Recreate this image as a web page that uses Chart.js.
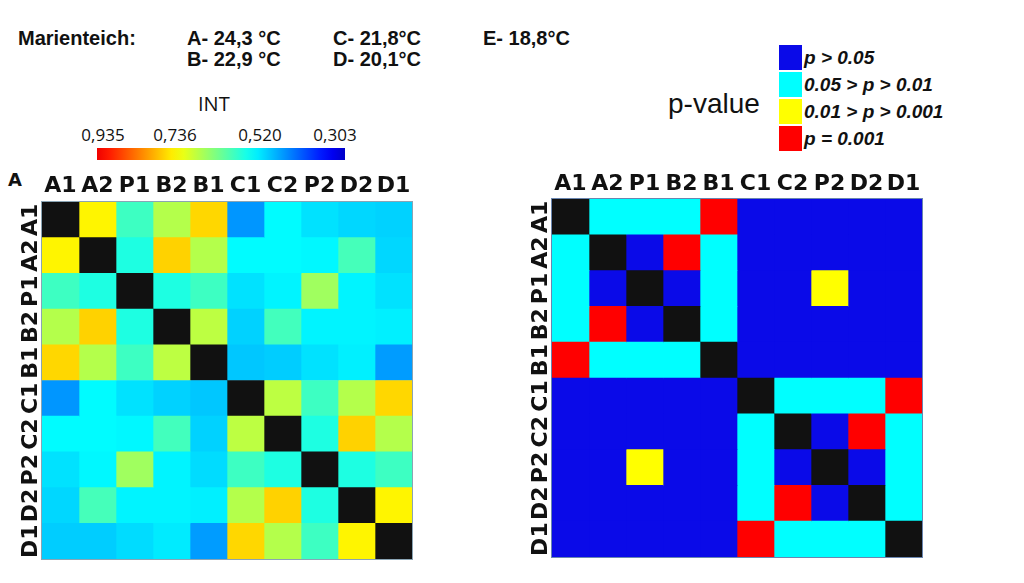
<!DOCTYPE html>
<html>
<head>
<meta charset="utf-8">
<script src="https://cdn.jsdelivr.net/npm/chart.js@4.4.1/dist/chart.umd.min.js"></script>
<style>
  body { margin: 0; background: #fff; width: 1024px; height: 583px; overflow: hidden; position: relative; }
  .t { position: absolute; white-space: nowrap; color: #111; }
  .hdr { font: bold 20px "Liberation Sans", Arial, sans-serif; line-height: 20px; }
  .cb { font: 17px "Open Sans", sans-serif; line-height: 17px; transform: translateX(-50%); }
  .leg { position: absolute; left: 779px; top: 45px; }
  .leg div { display: flex; align-items: center; height: 25px; margin-bottom: 2px; }
  .leg span.sw { width: 23px; height: 25px; display: inline-block; }
  .leg span.tx { font: italic bold 19px "Liberation Sans", Arial, sans-serif; margin-left: 2px; color: #111; }
  canvas { position: absolute; }
</style>
</head>
<body>
<div class="t hdr" style="left:18px;top:28px">Marienteich:</div>
<div class="t hdr" style="left:187px;top:28px">A- 24,3 °C</div>
<div class="t hdr" style="left:187px;top:49px">B- 22,9 °C</div>
<div class="t hdr" style="left:333px;top:28px">C- 21,8°C</div>
<div class="t hdr" style="left:333px;top:49px">D- 20,1°C</div>
<div class="t hdr" style="left:483px;top:28px">E- 18,8°C</div>
<div class="t" style="left:198px;top:94px;font:20px 'Open Sans',sans-serif;line-height:20px">INT</div>
<div id="cbLabels"></div>
<div id="colorbar" style="position:absolute;left:97px;top:148px;width:248px;height:12px"></div>
<div class="t" style="left:8px;top:171px;font:bold 18px 'DejaVu Sans',sans-serif;line-height:18px">A</div>
<div class="t" style="left:668px;top:90px;font:28px 'Liberation Sans',Arial,sans-serif;line-height:28px">p-value</div>
<div class="leg" id="legend"></div>

<canvas id="intChart" style="left:0;top:160px" width="430" height="423"></canvas>
<canvas id="pChart" style="left:510px;top:160px" width="430" height="423"></canvas>

<script>
// sample order used on both axes
const samples = ['A1', 'A2', 'P1', 'B2', 'B1', 'C1', 'C2', 'P2', 'D2', 'D1'];

// INT values (null = diagonal)
const intA1 = [null, 0.738, 0.584, 0.674, 0.761, 0.459, 0.536, 0.516, 0.508, 0.504];
const intA2 = [0.738, null, 0.560, 0.765, 0.674, 0.536, 0.536, 0.533, 0.590, 0.508];
const intP1 = [0.584, 0.560, null, 0.560, 0.584, 0.516, 0.530, 0.659, 0.530, 0.516];
const intB2 = [0.674, 0.765, 0.560, null, 0.681, 0.504, 0.588, 0.530, 0.530, 0.527];
const intB1 = [0.761, 0.674, 0.584, 0.681, null, 0.496, 0.500, 0.516, 0.527, 0.463];
const intC1 = [0.459, 0.536, 0.516, 0.504, 0.496, null, 0.681, 0.584, 0.674, 0.761];
const intC2 = [0.536, 0.536, 0.533, 0.588, 0.504, 0.681, null, 0.560, 0.765, 0.674];
const intP2 = [0.516, 0.533, 0.659, 0.530, 0.512, 0.584, 0.560, null, 0.560, 0.584];
const intD2 = [0.508, 0.590, 0.530, 0.530, 0.527, 0.674, 0.765, 0.560, null, 0.738];
const intD1 = [0.500, 0.500, 0.512, 0.523, 0.463, 0.761, 0.674, 0.584, 0.738, null];
const intRows = [intA1, intA2, intP1, intB2, intB1, intC1, intC2, intP2, intD2, intD1];

// colorbar range and tick labels
const intMax = 0.935;
const intMin = 0.303;
const cbTicks = ['0,935', '0,736', '0,520', '0,303'];

// p-value classes: 0 diag, 1 p>0.05, 2 0.05>p>0.01, 3 0.01>p>0.001, 4 p=0.001
const pA1 = [0, 2, 2, 2, 4, 1, 1, 1, 1, 1];
const pA2 = [2, 0, 1, 4, 2, 1, 1, 1, 1, 1];
const pP1 = [2, 1, 0, 1, 2, 1, 1, 3, 1, 1];
const pB2 = [2, 4, 1, 0, 2, 1, 1, 1, 1, 1];
const pB1 = [4, 2, 2, 2, 0, 1, 1, 1, 1, 1];
const pC1 = [1, 1, 1, 1, 1, 0, 2, 2, 2, 4];
const pC2 = [1, 1, 1, 1, 1, 2, 0, 1, 4, 2];
const pP2 = [1, 1, 3, 1, 1, 2, 1, 0, 1, 2];
const pD2 = [1, 1, 1, 1, 1, 2, 4, 1, 0, 2];
const pD1 = [1, 1, 1, 1, 1, 4, 2, 2, 2, 0];
const pRows = [pA1, pA2, pP1, pB2, pB1, pC1, pC2, pP2, pD2, pD1];

const pClassLabels = ['p > 0.05', '0.05 > p > 0.01', '0.01 > p > 0.001', 'p = 0.001'];
const pClassColors = ['#111111', '#0a0ae8', '#00ffff', '#ffff00', '#ff0000'];

// jet-like map: high INT = red, low = dark blue
function jetColor(v) {
    if (v === null) return '#111111';
    const t = 0.07 + (v - intMin) / (intMax - intMin) * 0.82;
    const ch = k => Math.round(255 * Math.max(0, Math.min(1, 1.5 - Math.abs(4 * t - k))));
    return `rgb(${ch(3)},${ch(2)},${ch(1)})`;
}

// colorbar + its labels
const stops = [];
for (let i = 0; i <= 20; i++) {
    const v = intMax - (intMax - intMin) * i / 20;
    stops.push(`${jetColor(v)} ${i * 5}%`);
}
document.getElementById('colorbar').style.background = `linear-gradient(to right, ${stops.join(',')})`;
const cbPos = [103, 175, 260, 335];
document.getElementById('cbLabels').innerHTML = cbTicks
    .map((s, i) => `<div class="t cb" style="left:${cbPos[i]}px;top:126px">${s}</div>`).join('');

// p-value legend
document.getElementById('legend').innerHTML = pClassLabels
    .map((s, i) => `<div><span class="sw" style="background:${pClassColors[i + 1]}"></span><span class="tx">${s}</span></div>`).join('');

// draws the rotated row labels, top column labels and frame
const matrixLabels = {
    id: 'matrixLabels',
    afterDraw(chart, args, opts) {
        const ctx = chart.ctx;
        const area = chart.chartArea;
        const xs = chart.scales.x;
        const ys = chart.scales.y;
        ctx.save();
        ctx.strokeStyle = opts.frame;
        ctx.lineWidth = 1;
        ctx.strokeRect(area.left - 0.5, area.top - 0.5, area.right - area.left + 1, area.bottom - area.top + 1);
        ctx.fillStyle = '#111';
        ctx.font = 'bold 22px "DejaVu Sans"';
        ctx.textAlign = 'center';
        ctx.textBaseline = 'middle';
        samples.forEach((s, i) => {
            ctx.fillText(s, xs.getPixelForValue(i + 0.5), area.top - opts.topGap);
            ctx.save();
            ctx.translate(area.left - opts.leftGap, ys.getPixelForValue(i));
            ctx.rotate(-Math.PI / 2);
            ctx.fillText(s, 0, 0);
            ctx.restore();
        });
        ctx.restore();
    }
};

function makeMatrix(canvasId, rows, colorFn, pad, gaps, frame) {
    const datasets = samples.map((col, j) => ({
        label: col,
        data: rows.map(() => 1),
        backgroundColor: rows.map(r => colorFn(r[j])),
        borderWidth: 0,
        barPercentage: 1,
        categoryPercentage: 1
    }));
    return new Chart(document.getElementById(canvasId), {
        type: 'bar',
        data: { labels: samples, datasets: datasets },
        options: {
            indexAxis: 'y',
            responsive: false,
            animation: false,
            layout: { padding: pad },
            scales: {
                x: { stacked: true, min: 0, max: 10, display: false },
                y: { stacked: true, display: false }
            },
            plugins: {
                legend: { display: false },
                tooltip: { enabled: false },
                matrixLabels: { topGap: gaps[0], leftGap: gaps[1], frame: frame }
            }
        },
        plugins: [matrixLabels]
    });
}

makeMatrix('intChart', intRows, jetColor, { left: 42, top: 42, right: 18, bottom: 24 }, [16, 11], '#8aa4b4');
makeMatrix('pChart', pRows, c => pClassColors[c], { left: 42, top: 39, right: 18, bottom: 26 }, [15, 11], '#6a86b0');
</script>
</body>
</html>
